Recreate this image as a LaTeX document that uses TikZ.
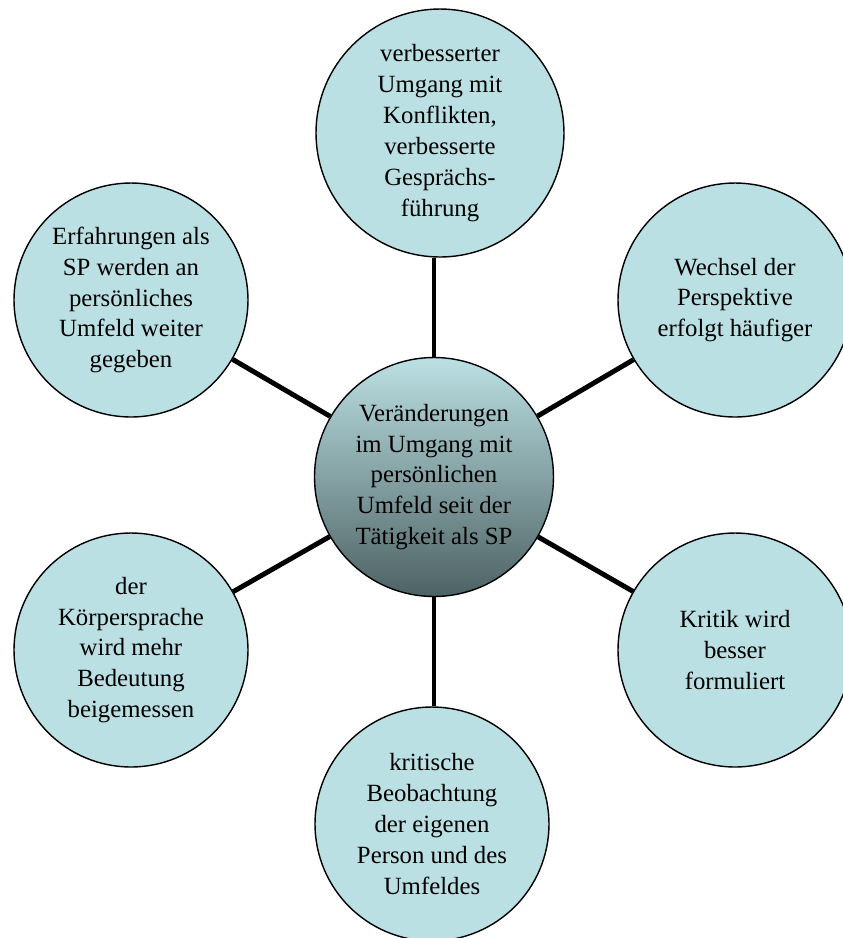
\documentclass[tikz,border=0pt]{standalone}
\usepackage{fontspec}
\setmainfont{Liberation Serif}
\usepackage{tikz}

\definecolor{leafblue}{RGB}{187,224,227}
\definecolor{hubdark}{RGB}{78,98,100}

\tikzset{
    leaf/.style={circle, draw=black, line width=0.8pt, fill=leafblue,
        minimum size=4.68cm, inner sep=0pt, align=center,
        font=\fontsize{14.1}{17.6}\selectfont},
    hub/.style={leaf, top color=leafblue, bottom color=hubdark, minimum size=4.78cm},
    spoke/.style={line width=2.8pt}
}

\begin{document}
\begin{tikzpicture}[x=0.02cm, y=-0.02cm, line join=round]

    % page frame, 843 x 938 px
    \useasboundingbox (0, 0) rectangle (843, 938);

    % centre circle
    \node[hub] (hub) at (434, 477)
        {Veränderungen\\im Umgang mit\\persönlichen\\Umfeld seit der\\Tätigkeit als SP};

    % surrounding circles, clockwise from the top
    \node[leaf, minimum size=4.96cm] (konflikt) at (440, 133)
        {verbesserter\\Umgang mit\\Konflikten,\\verbesserte\\Gesprächs-\\führung};
    \node[leaf] (perspektive) at (735, 300)
        {Wechsel der\\Perspektive\\erfolgt häufiger};
    \node[leaf] (kritik) at (735, 650)
        {Kritik wird\\besser\\formuliert};
    \node[leaf] (beobachtung) at (432, 824)
        {kritische\\Beobachtung\\der eigenen\\Person und des\\Umfeldes};
    \node[leaf] (koerper) at (131, 650)
        {der\\Körpersprache\\wird mehr\\Bedeutung\\beigemessen};
    \node[leaf] (erfahrung) at (131, 300)
        {Erfahrungen als\\SP werden an\\persönliches\\Umfeld weiter\\gegeben};

    % spokes (top and bottom ones stay vertical)
    \draw[spoke] (hub) -- (hub |- konflikt.south);
    \draw[spoke] (hub) -- (hub |- beobachtung.north);
    \foreach \n in {perspektive, kritik, koerper, erfahrung}
        \draw[spoke] (hub) -- (\n);

\end{tikzpicture}
\end{document}
